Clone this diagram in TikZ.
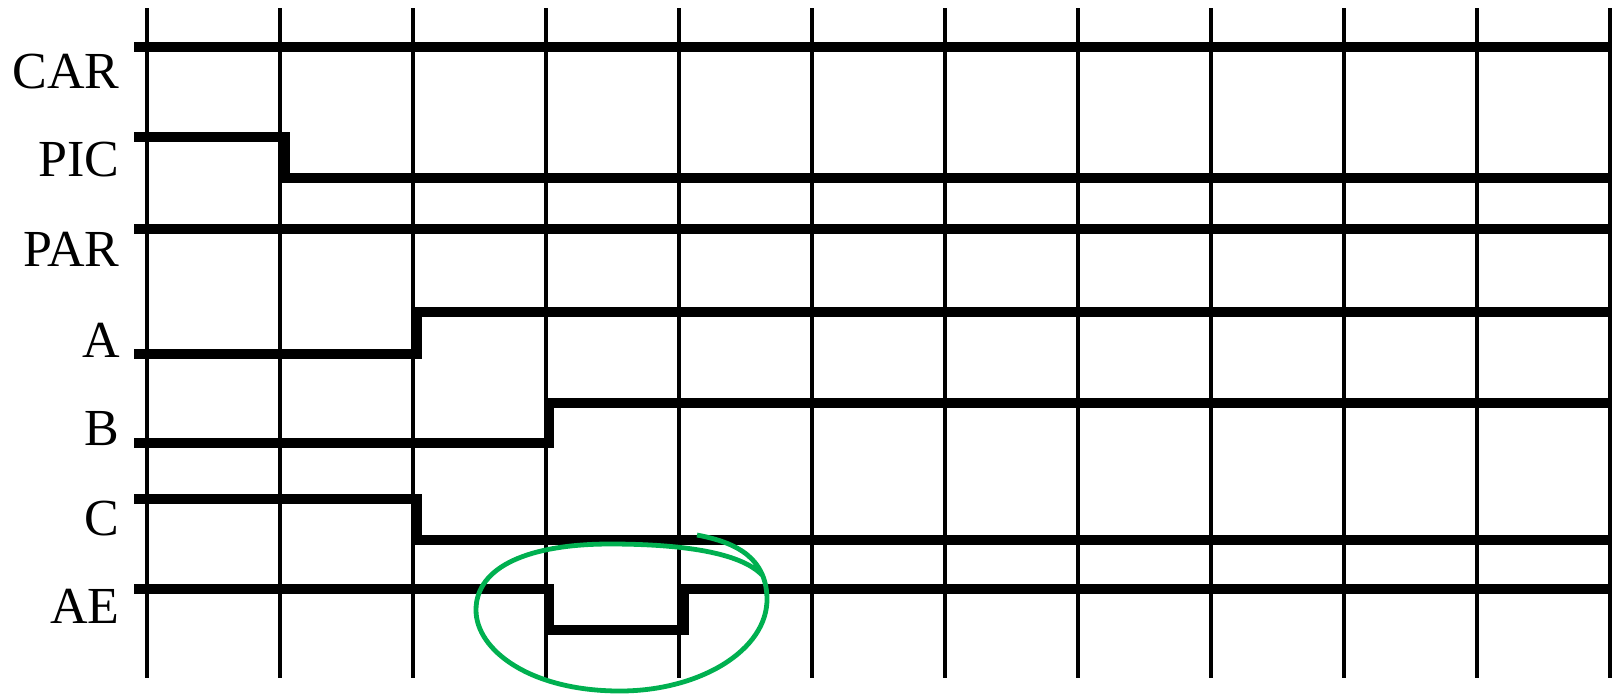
\documentclass[tikz,border=0pt]{standalone}
\usepackage{fontspec}
\setmainfont{Liberation Serif}
\definecolor{circgreen}{RGB}{0,176,80}

\begin{document}
\begin{tikzpicture}[
            x=0.5pt, y=-0.5pt,
            gridline/.style={line width=1.75pt, black},
            sigline/.style={line width=5pt, black, line join=miter},
            siglabel/.style={anchor=base east, inner sep=0pt, font=\fontsize{26}{30}\selectfont},
            loopmark/.style={line width=2.4pt, circgreen}
        ]
            \useasboundingbox (0,0) rectangle (1612,693);

            % clock grid
            \foreach \i in {0,...,11}
                \draw[gridline] (147+133*\i,8) -- (147+133*\i,678);

            % signal names
            \node[siglabel] (car) at (120,88)  {CAR};
            \node[siglabel] (pic) at (120,176) {PIC};
            \node[siglabel] (par) at (120,266) {PAR};
            \node[siglabel] (a)   at (120,357) {A};
            \node[siglabel] (b)   at (120,445) {B};
            \node[siglabel] (c)   at (120,535) {C};
            \node[siglabel] (ae)  at (120,623) {AE};

            % waveforms
            \draw[sigline] (134,47) -- (1612,47);
            \draw[sigline] (134,137) -- (285,137) -- (285,178) -- (1612,178);
            \draw[sigline] (134,229) -- (1612,229);
            \draw[sigline] (134,354) -- (417,354) -- (417,312) -- (1612,312);
            \draw[sigline] (134,443) -- (549,443) -- (549,403) -- (1612,403);
            \draw[sigline] (134,499) -- (417,499) -- (417,540) -- (1612,540);
            \draw[sigline] (134,589) -- (549,589) -- (549,630) -- (684,630) -- (684,589) -- (1612,589);

            % hand drawn loop round the AE pulse
            \draw[loopmark] (697,535)
                .. controls (740,543) and (766,560) .. (767,598)
                .. controls (768,650) and (700,691) .. (620,691)
                .. controls (530,691) and (476,650) .. (476,610)
                .. controls (476,566) and (530,544) .. (610,544)
                .. controls (680,544) and (740,552) .. (762,575);
        \end{tikzpicture}
\end{document}
